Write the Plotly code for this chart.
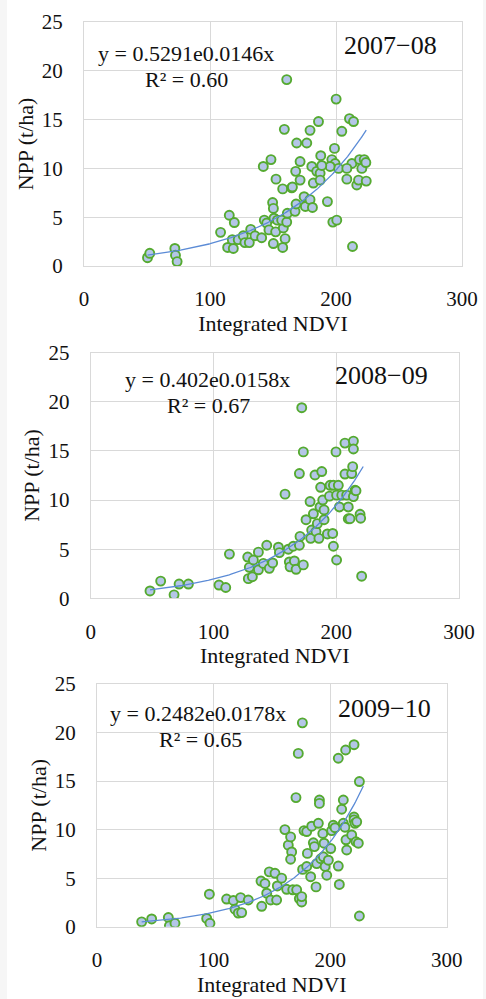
import numpy as np
import plotly.graph_objects as go

# ---------------- data ----------------
ndvi_0708 = [50.4, 52.2, 72.1, 72.6, 73.9, 108.4, 115.3, 119.3, 114.0, 118.5, 117.7, 122.4, 126.4, 127.7,
             131.2, 132.3, 135.7, 141.0, 142.3, 148.4, 143.1, 145.0, 146.8, 149.7, 150.3, 150.8, 150.3,
             152.1, 152.4, 153.5, 157.7, 159.0, 160.9, 157.7, 159.6, 158.2, 156.9, 160.9, 161.4, 164.9,
             165.4, 167.5, 168.3, 168.0, 168.8, 171.5, 171.5, 174.7, 175.7, 176.8, 179.4, 186.1, 179.4,
             181.3, 182.0, 180.8, 184.7, 187.4, 187.9, 187.4, 193.2, 197.5, 200.6, 198.8, 200.1, 196.7,
             199.3, 202.0, 204.6, 208.6, 210.7, 213.9, 212.6, 213.1, 208.6, 216.5, 217.9, 218.7, 220.5,
             222.4, 223.7, 224.0, 195.3, 188.7]
npp_0708 = [0.85, 1.3, 1.8, 1.1, 0.45, 3.45, 5.2, 4.45, 1.9, 1.8, 2.7, 2.7, 3.1, 2.4,
            2.4, 3.75, 3.1, 2.9, 10.2, 10.9, 4.7, 4.4, 3.7, 6.5, 5.9, 4.9, 2.3,
            3.5, 8.9, 4.7, 7.9, 14.0, 19.1, 1.9, 2.8, 3.9, 4.7, 4.5, 5.4, 8.0,
            8.1, 5.6, 6.35, 9.7, 12.6, 8.8, 10.7, 7.1, 6.1, 12.6, 13.9, 14.8, 6.8,
            6.0, 8.5, 10.2, 9.7, 9.5, 11.3, 8.8, 6.6, 4.5, 4.7, 12.05, 17.1, 10.9,
            10.5, 10.0, 13.8, 8.9, 15.1, 14.8, 10.5, 2.0, 10.0, 8.3, 8.8, 10.9, 10.0,
            10.9, 10.6, 8.7, 10.2, 10.3]

ndvi_0809 = [48.3, 57.0, 67.9, 72.0, 79.6, 104.5, 110.0, 113.0, 127.9, 129.2, 128.4, 131.7, 132.5, 136.6,
             136.6, 140.6, 143.4, 145.5, 148.2, 152.9, 153.7, 158.3, 161.0, 161.8, 162.4, 165.0, 165.9,
             167.3, 170.0, 170.0, 170.5, 171.9, 173.2, 173.2, 175.4, 178.7, 180.0, 179.2, 181.4, 182.7,
             183.5, 184.6, 185.9, 186.8, 187.3, 188.2, 189.0, 190.1, 190.1, 192.8, 194.5, 195.0, 197.1,
             197.7, 197.7, 199.8, 200.3, 200.3, 201.7, 202.6, 204.5, 207.1, 207.1, 208.5, 209.8, 209.8,
             211.2, 212.6, 213.4, 214.0, 214.0, 214.0, 215.3, 216.1, 219.4, 219.9, 220.7]
npp_0809 = [0.75, 1.75, 0.35, 1.45, 1.45, 1.35, 1.1, 4.5, 4.2, 3.15, 2.0, 2.2, 3.9, 4.7,
            2.9, 3.55, 5.4, 3.05, 3.6, 5.2, 4.65, 10.6, 5.0, 3.7, 3.2, 5.3, 3.8,
            2.95, 5.4, 12.7, 6.3, 19.4, 14.9, 3.4, 8.0, 9.85, 6.95, 6.1, 8.6, 12.55,
            6.8, 7.6, 6.1, 9.3, 11.3, 12.9, 10.0, 9.0, 8.0, 6.55, 10.4, 11.5, 6.6,
            5.3, 11.5, 14.9, 3.9, 10.5, 11.5, 9.3, 10.5, 12.65, 15.8, 10.5, 9.3, 8.1,
            8.1, 12.7, 13.4, 16.0, 15.2, 10.35, 11.0, 10.95, 8.55, 8.15, 2.25]

ndvi_0910 = [38.3, 46.9, 61.2, 62.1, 66.9, 94.1, 96.9, 96.4, 111.2, 117.0, 118.4, 121.2, 123.2, 124.1,
             129.8, 140.7, 141.3, 144.1, 145.6, 147.8, 149.0, 152.7, 154.1, 154.7, 158.4, 161.2, 162.7,
             164.1, 166.1, 167.0, 166.1, 167.9, 170.7, 171.3, 172.7, 173.6, 175.6, 175.6, 176.2, 176.4,
             177.6, 179.9, 179.9, 180.5, 183.3, 184.2, 185.6, 186.5, 187.9, 188.5, 189.9, 190.8, 190.8,
             192.0, 193.7, 194.2, 194.8, 195.7, 197.1, 198.5, 200.5, 201.3, 202.7, 204.2, 207.0, 207.0,
             207.9, 209.9, 211.3, 211.3, 212.7, 213.3, 213.6, 214.2, 218.5, 220.5, 220.5, 220.5, 221.3,
             222.2, 224.2, 225.1, 225.1, 222.8]
npp_0910 = [0.5, 0.8, 0.95, 0.1, 0.35, 0.85, 0.35, 3.35, 2.85, 2.7, 1.8, 1.4, 3.0, 1.45,
            2.75, 4.7, 2.1, 4.45, 3.45, 5.65, 2.75, 5.5, 2.75, 4.2, 5.0, 10.0, 3.85,
            8.4, 9.25, 7.7, 6.95, 3.8, 13.3, 3.8, 17.85, 2.9, 2.55, 3.1, 21.0, 5.9,
            9.9, 9.8, 6.2, 7.55, 5.15, 10.35, 8.65, 8.25, 4.1, 6.5, 10.65, 13.05, 12.7,
            7.0, 9.6, 7.2, 8.6, 6.2, 5.3, 6.85, 8.05, 9.9, 10.45, 10.2, 6.25, 17.35,
            4.35, 12.1, 13.05, 10.65, 10.25, 18.2, 8.95, 7.9, 9.45, 18.75, 11.3, 11.0, 10.65,
            8.75, 8.6, 1.1, 14.95, 10.8]

# exponential trend-line coefficients (as printed on the chart)
trend_a = [0.5291, 0.402, 0.2482]
trend_b = [0.0146, 0.0158, 0.0178]
trend_xmax = [224.0, 222.0, 228.5]
equations = ["y = 0.5291e0.0146x", "y = 0.402e0.0158x", "y = 0.2482e0.0178x"]
r2_labels = ["R² = 0.60", "R² = 0.67", "R² = 0.65"]
seasons = ["2007−08", "2008−09", "2009−10"]

x_ticks = [0, 100, 200, 300]
y_ticks = [0, 5, 10, 15, 20, 25]

# ---------------- layout helpers ----------------
W, H = 486, 999
def px(x):
    return x / W
def py(y):
    return 1 - y / H

# plot-area pixel boxes (left, right, top, bottom)
boxes = [(84, 462, 22, 266), (90.7, 459, 352.7, 598.3), (97, 446.7, 684, 926.7)]
eq_pos = [((96, 53), (143, 79), (342, 46)),
          ((123, 379), (165, 405), (333, 376)),
          ((108, 713), (157, 739), (336, 708))]

FONT = "Liberation Serif"
TXT = "#111111"
fig = go.Figure()

datasets = [(ndvi_0708, npp_0708), (ndvi_0809, npp_0809), (ndvi_0910, npp_0910)]
annotations = []
for i, (xs, ys) in enumerate(datasets):
    xa = "x" if i == 0 else f"x{i+1}"
    ya = "y" if i == 0 else f"y{i+1}"
    fig.add_trace(go.Scatter(
        x=xs, y=ys, mode="markers", xaxis=xa, yaxis=ya, showlegend=False,
        marker=dict(size=9, color="#b4c6e7", line=dict(color="#55aa30", width=1.9)),
    ))
    tx = np.linspace(min(xs), trend_xmax[i], 200)
    ty = trend_a[i] * np.exp(trend_b[i] * tx)
    fig.add_trace(go.Scatter(
        x=tx, y=ty, mode="lines", xaxis=xa, yaxis=ya, showlegend=False,
        line=dict(color="#5b8bd6", width=1.3),
    ))
    l, r, t, b = boxes[i]
    axis_common = dict(
        showgrid=True, gridcolor="#d9d9d9", gridwidth=1, zeroline=False,
        showline=True, linecolor="#d9d9d9", linewidth=1, mirror=True,
        ticks="", tickfont=dict(family=FONT, size=21, color=TXT), automargin=False,
    )
    fig.update_layout(**{
        ("xaxis" if i == 0 else f"xaxis{i+1}"): dict(
            axis_common, domain=[px(l), px(r)], range=[0, 300], tickvals=x_ticks,
            anchor=ya, ticklabelstandoff=14,
            title=dict(text="Integrated NDVI", font=dict(family=FONT, size=22, color=TXT), standoff=4),
        ),
        ("yaxis" if i == 0 else f"yaxis{i+1}"): dict(
            axis_common, domain=[py(b), py(t)], range=[0, 25], tickvals=y_ticks,
            anchor=xa, ticklabelstandoff=16,
            title=dict(text="NPP (t/ha)", font=dict(family=FONT, size=22, color=TXT), standoff=2),
        ),
    })
    (ex, ey), (rx, ry), (sx, sy) = eq_pos[i]
    annotations.append(dict(xref="paper", yref="paper", x=px(ex), y=py(ey), xanchor="left", yanchor="middle",
                            text=equations[i], showarrow=False, font=dict(family=FONT, size=22, color=TXT)))
    annotations.append(dict(xref="paper", yref="paper", x=px(rx), y=py(ry), xanchor="left", yanchor="middle",
                            text=r2_labels[i], showarrow=False, font=dict(family=FONT, size=22, color=TXT)))
    annotations.append(dict(xref="paper", yref="paper", x=px(sx), y=py(sy), xanchor="left", yanchor="middle",
                            text=seasons[i], showarrow=False, font=dict(family=FONT, size=26, color=TXT)))

fig.update_layout(
    width=W, height=H, margin=dict(l=0, r=0, t=0, b=0, autoexpand=False),
    paper_bgcolor="#f6f6f6", plot_bgcolor="#f4f4f4",
    font=dict(family=FONT, color=TXT),
    annotations=annotations,
    shapes=[dict(type="rect", xref="paper", yref="paper", x0=px(7), x1=px(483), y0=0, y1=1,
                 fillcolor="#ffffff", line=dict(width=0), layer="below")],
)

fig.write_html("out.html", config={"displayModeBar": False},
               post_script="document.body.style.margin='0px';document.body.style.overflow='hidden';")
